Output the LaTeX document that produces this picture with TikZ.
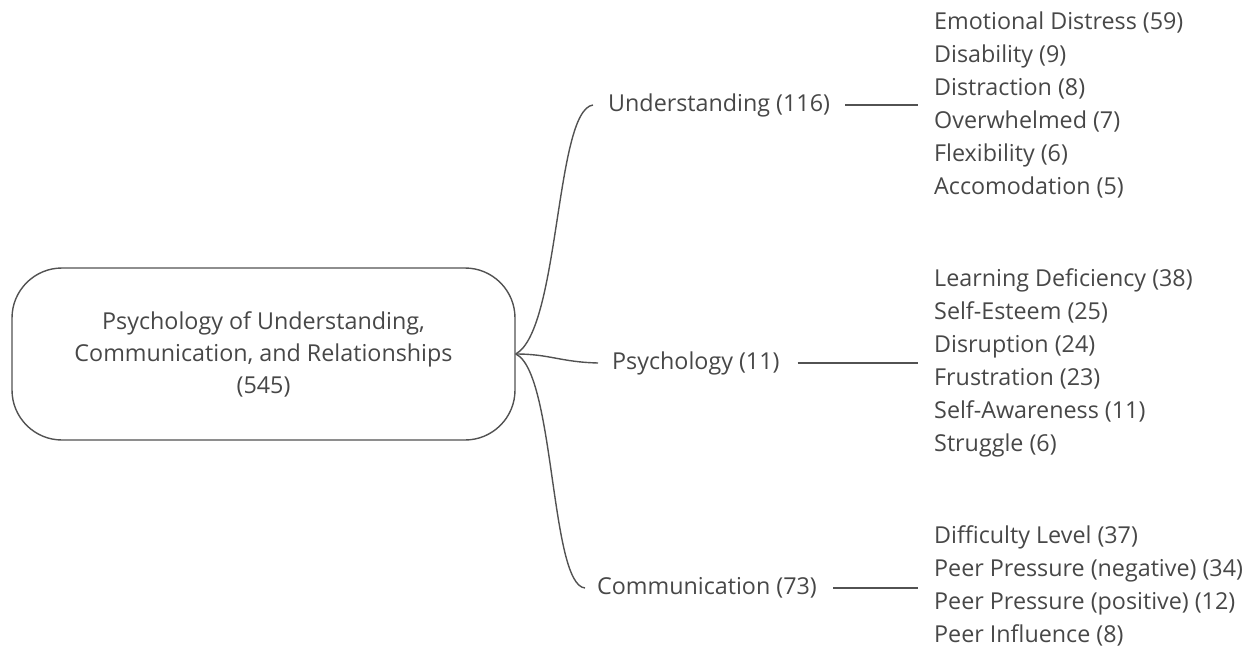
\documentclass[tikz,border=0pt]{standalone}
\usepackage{fontspec}
\setmainfont{Open Sans}
\begin{document}
\begin{tikzpicture}[x=1pt,y=-1pt,
  txt/.style={text=black!72, font=\fontsize{23.3}{33}\selectfont, inner sep=0pt},
  rootbox/.style={txt, draw=black!68, line width=1.4pt, rounded corners=50pt,
    minimum width=503pt, minimum height=172pt, align=center,
    font=\fontsize{23.3}{32}\selectfont},
  branch/.style={txt, anchor=west},
  leaves/.style={txt, anchor=west, align=left},
  link/.style={draw=black!68, line width=1.4pt}
]
\useasboundingbox (0,0) rectangle (1244,647);

% central topic
\node[rootbox] (root) at (263.5,354) {Psychology of Understanding,\\Communication, and Relationships\\(545)};
\coordinate (hub) at (root.east);

% first-level branches
\node[branch] (und) at (608,105) {Understanding (116)};
\node[branch] (psy) at (612,363) {Psychology (11)};
\node[branch] (com) at (597,588) {Communication (73)};

% leaf lists
\node[leaves] (undL) at (934,105) {Emotional Distress (59)\\Disability (9)\\Distraction (8)\\Overwhelmed (7)\\Flexibility (6)\\Accomodation (5)};
\node[leaves] (psyL) at (934,363) {Learning Deficiency (38)\\Self-Esteem (25)\\Disruption (24)\\Frustration (23)\\Self-Awareness (11)\\Struggle (6)};
\node[leaves] (comL) at (934,586) {Difficulty Level (37)\\Peer Pressure (negative) (34)\\Peer Pressure (positive) (12)\\Peer Influence (8)};

% curved links from the hub
\draw[link] (hub) .. controls (560,330) and (555,110) .. ([xshift=-15pt]und.west);
\draw[link] (hub) .. controls (550,354) and (560,362) .. ([xshift=-14pt]psy.west);
\draw[link] (hub) .. controls (555,372) and (550,585) .. ([xshift=-12pt]com.west);

% straight links to the leaf lists
\draw[link] ([xshift=15pt]und.east) -- ([xshift=-16pt]und.east -| undL.west);
\draw[link] ([xshift=18pt]psy.east) -- ([xshift=-16pt]psy.east -| psyL.west);
\draw[link] ([xshift=16pt]com.east) -- ([xshift=-16pt]com.east -| comL.west);
\end{tikzpicture}
\end{document}
